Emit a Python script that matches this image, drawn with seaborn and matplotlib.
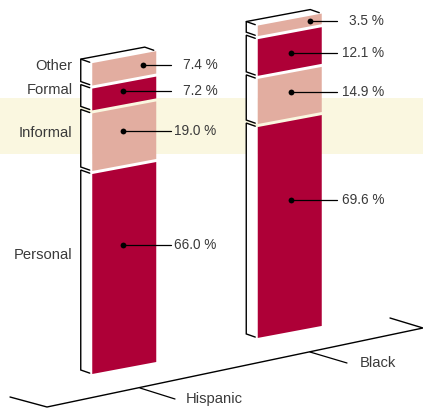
import numpy as np
import matplotlib
matplotlib.use("Agg")
import matplotlib.pyplot as plt
from matplotlib.transforms import Affine2D
import seaborn as sns

# -----------------------------
# DATA
# -----------------------------
groups = ["Hispanic", "Black"]
segments = ["Personal", "Informal", "Formal", "Other"]
personal = [66.0, 69.6]
informal = [19.0, 14.9]
formal = [7.2, 12.1]
other = [7.4, 3.5]
baseline = [0.0, 11.9]  # the black bar stands further back on the floor

# -----------------------------
# LAYOUT (pixels of the 423x408 picture)
# -----------------------------
PX_PER_PCT = 3.03
GAP = 1.0
BASE_Y = 368.0
X0 = 124.25
X_STEP = 165.5
BAR_W = 64.0
SHEAR = 0.1875
CRIMSON = "#AE0037"
PINK = "#E2ADA0"
CREAM = "#FAF7E0"
TEXT = "#3a3a3a"


def px_x(x):
    return (x - X0) / X_STEP


def px_y(y):
    return (BASE_Y - y) / PX_PER_PCT


sns.set_theme(style="white")
plt.rcParams["font.family"] = ["Liberation Sans", "DejaVu Sans"]

fig = plt.figure(figsize=(4.23, 4.08), dpi=100)
ax = fig.add_axes([0, 0, 1, 1])

# -----------------------------
# STACKED BARS, SHEARED AFTERWARDS
# -----------------------------
series = [personal, informal, formal, other]
colors = [CRIMSON, PINK, CRIMSON, PINK]
bottoms = np.array(baseline)
seg_edges = []
for vals, col in zip(series, colors):
    sns.barplot(x=groups, y=vals, order=groups, bottom=bottoms, color=col,
                saturation=1, width=BAR_W / X_STEP, linewidth=0, errorbar=None,
                ax=ax, zorder=3)
    seg_edges.append((bottoms.copy(), bottoms + np.array(vals)))
    bottoms = bottoms + np.array(vals) + GAP

k = SHEAR / PX_PER_PCT * X_STEP
for patch in ax.patches:
    xc = patch.get_x() + patch.get_width() / 2
    shear = Affine2D(np.array([[1, 0, 0], [k, 1, -k * xc], [0, 0, 1]], dtype=float))
    patch.set_transform(shear + ax.transData)

ax.set_xlim(px_x(0), px_x(423))
ax.set_ylim(px_y(408), px_y(0))
ax.axis("off")

# cream band goes in after the shear so it stays level
ax.axhspan(px_y(154), px_y(98), color=CREAM, lw=0, zorder=0)

# -----------------------------
# BRACKETS ON THE LEFT SIDE OF EACH BAR
# -----------------------------
half = BAR_W / 2 / X_STEP
dx_side = 11.5 / X_STEP
dy_side = 4.0 / PX_PER_PCT
tick = 9.0 / X_STEP
line_kw = dict(color="black", lw=1.0, solid_joinstyle="miter", zorder=2)

for i in range(len(groups)):
    left = i - half
    lift = k * half  # left edge of a sheared bar sits this much lower
    for low, high in seg_edges:
        y_low = low[i] - lift
        y_high = high[i] - lift
        ax.fill([left, left - dx_side, left - dx_side, left],
                [y_high, y_high + dy_side, y_low + dy_side, y_low],
                color="white", lw=0, zorder=1)
        ax.plot([left - dx_side + tick, left - dx_side, left - dx_side, left - dx_side + tick],
                [y_high + dy_side - dy_side * tick / dx_side, y_high + dy_side,
                 y_low + dy_side, y_low + dy_side - dy_side * tick / dx_side], **line_kw)
    # top edge of the box
    top = seg_edges[-1][1][i] - lift
    ax.plot([left - dx_side, left - dx_side + BAR_W / X_STEP,
             left - dx_side + BAR_W / X_STEP + tick],
            [top + dy_side, top + dy_side + 2 * lift,
             top + dy_side + 2 * lift - dy_side * tick / dx_side], **line_kw)

# -----------------------------
# SEGMENT NAMES
# -----------------------------
name_y = [255, 133, 90, 66]
for name, y in zip(segments, name_y):
    ax.text(px_x(72.5), px_y(y), name, ha="right", va="center", fontsize=10.6, color=TEXT)

# -----------------------------
# VALUE CALLOUTS
# -----------------------------
dot_x = [[123, 123, 123, 143], [290.5, 290.5, 290.5, 310]]
dot_y = [[245, 131, 91, 65], [200, 92, 53, 21]]
line_end = [171, 337]
text_end = [[216.5, 216.5, 218, 218], [384, 384, 384, 384]]
for i in range(len(groups)):
    for s in range(len(series)):
        x = px_x(dot_x[i][s])
        y = px_y(dot_y[i][s])
        ax.plot([x, px_x(line_end[i])], [y, y], color="black", lw=0.9, zorder=4)
        ax.plot([x], [y], "o", color="black", ms=4.2, mew=0, zorder=5)
        ax.text(px_x(text_end[i][s]), y, f"{series[s][i]:.1f} %", ha="right", va="center",
                fontsize=9.8, color=TEXT, zorder=5)

# -----------------------------
# FLOOR AXIS
# -----------------------------
floor_x = [10, 47, 423, 390]
floor_y = [397, 407, 328, 318]
ax.plot([px_x(v) for v in floor_x], [px_y(v) for v in floor_y], color="black", lw=1.0, zorder=2)
ax.plot([px_x(140), px_x(175)], [px_y(388), px_y(399)], color="black", lw=0.9, zorder=2)
ax.plot([px_x(310), px_x(347)], [px_y(352), px_y(363)], color="black", lw=0.9, zorder=2)
ax.text(px_x(186), px_y(399), "Hispanic", ha="left", va="center", fontsize=10.6, color=TEXT)
ax.text(px_x(360), px_y(363), "Black", ha="left", va="center", fontsize=10.6, color=TEXT)

fig.savefig("out.png", dpi=100)
